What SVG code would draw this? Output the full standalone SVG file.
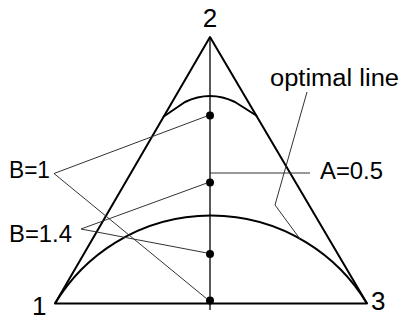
<svg xmlns="http://www.w3.org/2000/svg" width="403" height="320" viewBox="0 0 403 320">
<style>
.bg{fill:#fff}
.thick{fill:none;stroke:#000;stroke-width:2;stroke-linejoin:round}
.axis{fill:none;stroke:#000;stroke-width:1.3}
.lead{fill:none;stroke:#333;stroke-width:1}
.dot{fill:#000}
.num{font-family:"Liberation Sans",Arial,sans-serif;font-size:26px;fill:#000}
.lbl{font-family:"Liberation Sans",Arial,sans-serif;font-size:23px;fill:#000}
</style>
<rect class="bg" x="0" y="0" width="403" height="320"/>
<g id="triangle">
<polygon class="thick" points="55,303.5 210,37 367,303.5"/>
</g>
<g id="axis">
<line class="axis" x1="210" y1="37" x2="210" y2="310"/>
</g>
<g id="curves">
<path class="thick" d="M163,117 L185,102 Q210,90 235,102 L257,116"/>
<path class="thick" d="M55,303.5 A182.3,182.3 0 0 1 367,303.5"/>
</g>
<g id="points">
<circle class="dot" cx="210" cy="115.5" r="4"/>
<circle class="dot" cx="210" cy="182.5" r="4"/>
<circle class="dot" cx="210" cy="254" r="4"/>
<circle class="dot" cx="210" cy="300.5" r="4"/>
</g>
<g id="connectors">
<polyline class="lead" points="207,116 54,173.5 207,299"/>
<polyline class="lead" points="207,183 81,229 207,253"/>
<line class="lead" x1="210" y1="173" x2="310" y2="173"/>
<polyline class="lead" points="307,92 275,205 300,239"/>
</g>
<g id="labels">
<text class="num" x="210" y="27" text-anchor="middle">2</text>
<text class="num" x="32" y="315">1</text>
<text class="num" x="371" y="310">3</text>
<text class="lbl" x="270" y="86" textLength="129" lengthAdjust="spacingAndGlyphs">optimal line</text>
<text class="lbl" x="9" y="178" textLength="41" lengthAdjust="spacingAndGlyphs">B=1</text>
<text class="lbl" x="9" y="242" textLength="63" lengthAdjust="spacingAndGlyphs">B=1.4</text>
<text class="lbl" x="320" y="179" textLength="63" lengthAdjust="spacingAndGlyphs">A=0.5</text>
</g>
</svg>
